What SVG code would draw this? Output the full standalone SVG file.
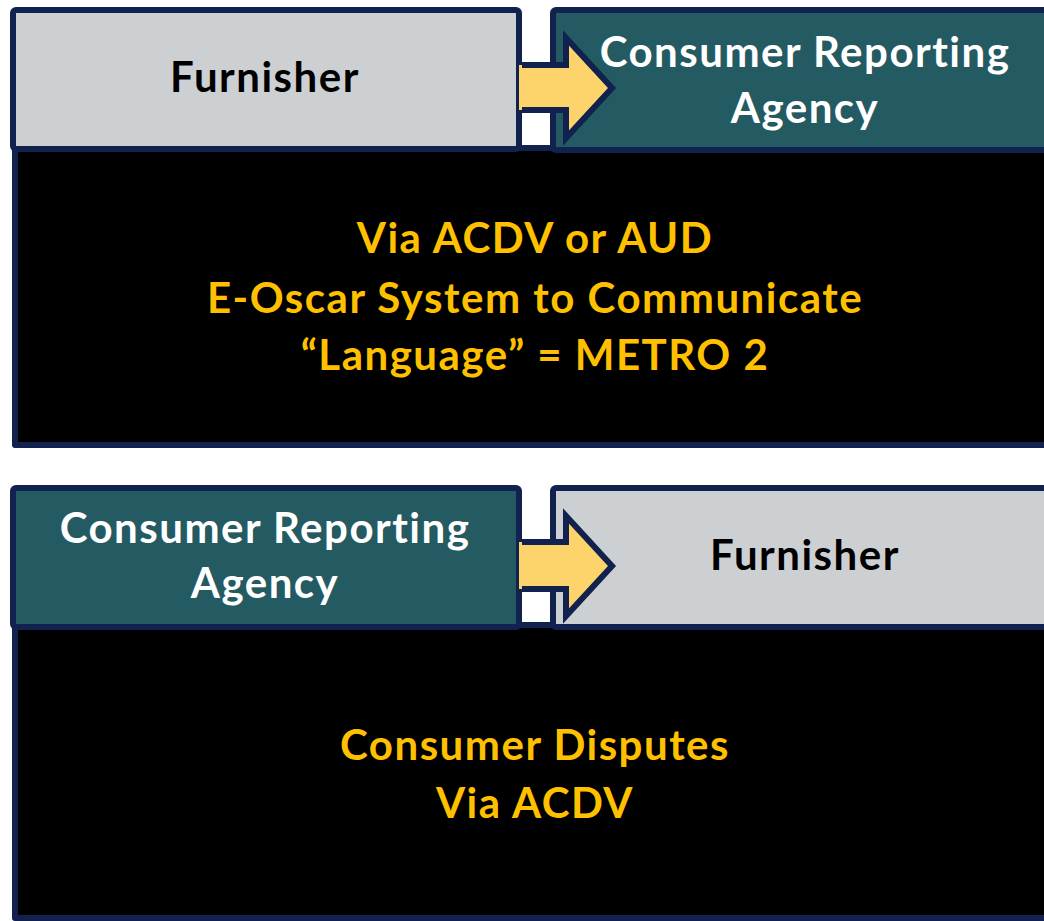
<svg xmlns="http://www.w3.org/2000/svg" width="1044" height="921" viewBox="0 0 1044 921">
<style>
.bd{stroke:#10224d;stroke-width:6;stroke-linejoin:round}
.grey{fill:#cdd0d3}
.teal{fill:#245a62}
.blk{fill:#000000}
.arr{fill:#fdd36b;stroke:#10224d;stroke-width:6;stroke-linejoin:miter}
text{font-family:Lato,"Open Sans","Liberation Sans",sans-serif;font-weight:bold;text-anchor:middle;letter-spacing:1.5px}
.tk{fill:#000000;font-size:42px}
.tw{fill:#ffffff;font-size:42px}
.ty{fill:#ffc000;font-size:42px}
</style>
<rect width="1044" height="921" fill="#ffffff"/>
<g id="panel1">
  <rect id="body1" class="bd blk" x="15" y="148" width="1060" height="297"/>
  <g id="furnisher1">
    <rect class="bd grey" x="13" y="10" width="506" height="139" rx="3"/>
    <text class="tk" x="265" y="92">Furnisher</text>
  </g>
  <g id="cra1">
    <rect class="bd teal" x="553" y="10" width="520" height="140" rx="3"/>
    <text class="tw" x="805" y="67">Consumer Reporting</text>
    <text class="tw" x="805" y="123">Agency</text>
  </g>
  <g id="connectors1">
    <polygon points="519,65 566,65 566,38 612,88 566,138 566,110 519,110" fill="#fdd36b" stroke="none"/>
    <polyline points="522,65 566,65 566,38 612,88 566,138 566,110 522,110" fill="none" stroke="#10224d" stroke-width="6"/>
  </g>
  <g id="text1">
    <text class="ty" x="535" y="253">Via ACDV or AUD</text>
    <text class="ty" x="535" y="313">E-Oscar System to Communicate</text>
    <text class="ty" x="535" y="370">“Language” = METRO 2</text>
  </g>
</g>
<g id="panel2">
  <rect id="body2" class="bd blk" x="15" y="625" width="1060" height="293"/>
  <g id="cra2">
    <rect class="bd teal" x="13" y="488" width="506" height="139" rx="3"/>
    <text class="tw" x="265" y="543">Consumer Reporting</text>
    <text class="tw" x="265" y="598">Agency</text>
  </g>
  <g id="furnisher2">
    <rect class="bd grey" x="553" y="488" width="520" height="139" rx="3"/>
    <text class="tk" x="805" y="570">Furnisher</text>
  </g>
  <g id="connectors2">
    <polygon points="519,542 566,542 566,516 612,566 566,616 566,589 519,589" fill="#fdd36b" stroke="none"/>
    <polyline points="522,542 566,542 566,516 612,566 566,616 566,589 522,589" fill="none" stroke="#10224d" stroke-width="6"/>
  </g>
  <g id="text2">
    <text class="ty" x="535" y="760">Consumer Disputes</text>
    <text class="ty" x="535" y="818">Via ACDV</text>
  </g>
</g>
</svg>
